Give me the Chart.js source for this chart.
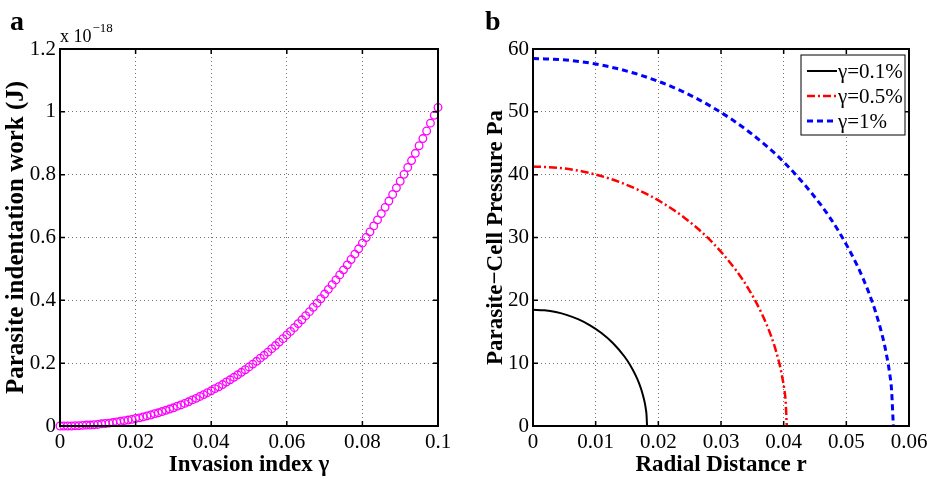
<!DOCTYPE html>
<html>
<head>
<meta charset="utf-8">
<script src="https://cdn.jsdelivr.net/npm/chart.js@4.4.0/dist/chart.umd.min.js"></script>
<style>
  body { margin: 0; background: #fff; }
  #workChart { position: absolute; left: 0; top: 0; }
  #pressureChart { position: absolute; left: 480px; top: 0; }
</style>
</head>
<body>
<canvas id="workChart" width="480" height="479"></canvas>
<canvas id="pressureChart" width="454" height="479"></canvas>
<script>
// panel a: indentation work (x 1e-18 J) against invasion index
const gamma = [
  0, 0.001, 0.002, 0.003, 0.004, 0.005, 0.006, 0.007, 0.008, 0.009,
  0.010, 0.011, 0.012, 0.013, 0.014, 0.015, 0.016, 0.017, 0.018, 0.019,
  0.020, 0.021, 0.022, 0.023, 0.024, 0.025, 0.026, 0.027, 0.028, 0.029,
  0.030, 0.031, 0.032, 0.033, 0.034, 0.035, 0.036, 0.037, 0.038, 0.039,
  0.040, 0.041, 0.042, 0.043, 0.044, 0.045, 0.046, 0.047, 0.048, 0.049,
  0.050, 0.051, 0.052, 0.053, 0.054, 0.055, 0.056, 0.057, 0.058, 0.059,
  0.060, 0.061, 0.062, 0.063, 0.064, 0.065, 0.066, 0.067, 0.068, 0.069,
  0.070, 0.071, 0.072, 0.073, 0.074, 0.075, 0.076, 0.077, 0.078, 0.079,
  0.080, 0.081, 0.082, 0.083, 0.084, 0.085, 0.086, 0.087, 0.088, 0.089,
  0.090, 0.091, 0.092, 0.093, 0.094, 0.095, 0.096, 0.097, 0.098, 0.099,
  0.100
];
const work = [
  0.000, 0.000, 0.000, 0.000, 0.001, 0.001, 0.002, 0.003, 0.003, 0.004,
  0.005, 0.007, 0.008, 0.009, 0.011, 0.013, 0.015, 0.017, 0.019, 0.021,
  0.024, 0.026, 0.029, 0.032, 0.035, 0.039, 0.042, 0.046, 0.050, 0.054,
  0.058, 0.063, 0.067, 0.072, 0.077, 0.083, 0.088, 0.094, 0.100, 0.106,
  0.112, 0.119, 0.125, 0.132, 0.140, 0.147, 0.155, 0.163, 0.171, 0.179,
  0.188, 0.197, 0.206, 0.216, 0.225, 0.235, 0.246, 0.256, 0.267, 0.278,
  0.290, 0.301, 0.313, 0.326, 0.338, 0.351, 0.364, 0.378, 0.391, 0.405,
  0.420, 0.435, 0.450, 0.465, 0.481, 0.497, 0.513, 0.530, 0.547, 0.564,
  0.582, 0.600, 0.618, 0.637, 0.656, 0.676, 0.696, 0.716, 0.737, 0.758,
  0.779, 0.801, 0.823, 0.845, 0.868, 0.892, 0.915, 0.939, 0.964, 0.989,
  1.014
];

// panel b: parasite-cell pressure against radial distance
const radius01 = [0, 0.00182, 0.00364, 0.00546, 0.00728, 0.0091, 0.01092, 0.01274, 0.01456,
  0.01547, 0.01638, 0.01693, 0.01729, 0.01765, 0.01784, 0.01802, 0.01811, 0.0182];
const pressure01 = [18.5, 18.41, 18.13, 17.65, 16.96, 16.02, 14.8, 13.21, 11.1,
  9.75, 8.06, 6.8, 5.78, 4.5, 3.68, 2.61, 1.85, 0];

const radius05 = [0, 0.00405, 0.0081, 0.01215, 0.0162, 0.02025, 0.0243, 0.02835, 0.0324,
  0.03443, 0.03645, 0.03767, 0.03848, 0.03929, 0.03969, 0.0401, 0.0403, 0.0405];
const pressure05 = [41.3, 41.09, 40.47, 39.4, 37.85, 35.77, 33.04, 29.49, 24.78,
  21.76, 18.0, 15.18, 12.9, 10.04, 8.22, 5.83, 4.12, 0];

const radius1 = [0, 0.00575, 0.0115, 0.01725, 0.023, 0.02875, 0.0345, 0.04025, 0.046,
  0.04888, 0.05175, 0.05348, 0.05463, 0.05578, 0.05635, 0.05693, 0.05721, 0.0575];
const pressure1 = [58.5, 58.21, 57.32, 55.81, 53.62, 50.66, 46.8, 41.78, 35.1,
  30.82, 25.5, 21.5, 18.27, 14.22, 11.64, 8.25, 5.84, 0];

const seriesLabels = ["γ=0.1%", "γ=0.5%", "γ=1%"];

const serif = "'Liberation Serif', 'Times New Roman', serif";

function toPoints(xs, ys) {
  return xs.map((x, i) => ({ x: x, y: ys[i] }));
}

// matlab prints 1 and 0.1, not 1.0 and 0.10
function plainTick(v) {
  return String(parseFloat(Number(v).toFixed(6)));
}

// box round the axes with matlab-style inward ticks
const axesBox = {
  id: "axesBox",
  afterDatasetsDraw(chart) {
    const { ctx, chartArea: a, scales } = chart;
    const x = scales.x, y = scales.y;
    ctx.save();
    ctx.strokeStyle = "#000";
    ctx.lineWidth = 1.5;
    ctx.beginPath();
    x.ticks.forEach((t) => {
      const px = x.getPixelForValue(t.value);
      ctx.moveTo(px, a.bottom); ctx.lineTo(px, a.bottom - 5);
      ctx.moveTo(px, a.top); ctx.lineTo(px, a.top + 5);
    });
    y.ticks.forEach((t) => {
      const py = y.getPixelForValue(t.value);
      ctx.moveTo(a.left, py); ctx.lineTo(a.left + 5, py);
      ctx.moveTo(a.right, py); ctx.lineTo(a.right - 5, py);
    });
    ctx.stroke();
    ctx.lineWidth = 2;
    ctx.strokeRect(a.left, a.top, a.right - a.left, a.bottom - a.top);

    const o = chart.options.plugins.axesBox;
    ctx.fillStyle = "#000";
    ctx.textAlign = "left";
    ctx.textBaseline = "alphabetic";
    ctx.font = "bold 28px " + serif;
    ctx.fillText(o.panel, o.panelX, 30);
    if (o.exponent) {
      ctx.font = "18px " + serif;
      ctx.fillText("x 10", a.left, 42);
      const w = ctx.measureText("x 10").width;
      ctx.font = "13px " + serif;
      ctx.fillText(o.exponent, a.left + w + 1, 32);
    }
    ctx.restore();
  }
};

// legend drawn inside the top right corner of panel b
const boxLegend = {
  id: "boxLegend",
  afterDraw(chart) {
    const o = chart.options.plugins.boxLegend;
    if (!o || !o.show) return;
    const { ctx, chartArea: a } = chart;
    const right = a.right - 4, top = a.top + 6, w = 104, h = 80;
    const left = right - w;
    ctx.save();
    ctx.fillStyle = "#fff";
    ctx.fillRect(left, top, w, h);
    ctx.strokeStyle = "#000";
    ctx.lineWidth = 1;
    ctx.strokeRect(left, top, w, h);
    chart.data.datasets.forEach((ds, i) => {
      const yy = top + 16 + i * 25;
      ctx.strokeStyle = ds.borderColor;
      ctx.lineWidth = ds.borderWidth;
      ctx.setLineDash(ds.borderDash || []);
      ctx.beginPath();
      ctx.moveTo(left + 6, yy);
      ctx.lineTo(left + 36, yy);
      ctx.stroke();
      ctx.setLineDash([]);
      ctx.fillStyle = "#000";
      ctx.font = "21px " + serif;
      ctx.textBaseline = "middle";
      ctx.fillText(ds.label, left + 37, yy + 1);
    });
    ctx.restore();
  }
};

function axisOptions(min, max, step, titleText, isY, boxSize, titleSize) {
  return {
    type: "linear",
    min: min,
    max: max,
    afterFit(s) {
      if (isY) s.width = boxSize; else s.height = boxSize;
    },
    ticks: {
      stepSize: step,
      autoSkip: false,
      maxRotation: 0,
      color: "#000",
      padding: 4,
      callback: plainTick,
      font: { family: serif, size: 21 }
    },
    grid: { color: "rgba(0,0,0,0.55)", lineWidth: 1, drawTicks: false },
    border: { display: false, dash: [1, 3] },
    title: {
      display: true,
      text: titleText,
      color: "#000",
      padding: { top: 2, bottom: 0 },
      font: { family: serif, size: titleSize || 23, weight: "bold" }
    }
  };
}

new Chart(document.getElementById("workChart"), {
  type: "scatter",
  data: {
    datasets: [{
      label: "work",
      data: toPoints(gamma, work),
      showLine: false,
      pointStyle: "circle",
      pointRadius: 3.8,
      pointBorderWidth: 1.3,
      pointBorderColor: "#ff00ff",
      pointBackgroundColor: "rgba(0,0,0,0)",
      clip: false
    }]
  },
  options: {
    responsive: false,
    animation: false,
    layout: { padding: { top: 49, right: 42, left: 0, bottom: 0 } },
    plugins: {
      legend: { display: false },
      tooltip: { enabled: false },
      axesBox: { panel: "a", panelX: 10, exponent: "\u221218" }
    },
    scales: {
      x: axisOptions(0, 0.1, 0.02, "Invasion index γ", false, 53),
      y: axisOptions(0, 1.2, 0.2, "Parasite indentation work (J)", true, 60, 25)
    }
  },
  plugins: [axesBox]
});

new Chart(document.getElementById("pressureChart"), {
  type: "scatter",
  data: {
    datasets: [
      {
        label: seriesLabels[0],
        data: toPoints(radius01, pressure01),
        showLine: true,
        borderColor: "#000000",
        borderWidth: 2,
        pointRadius: 0,
        cubicInterpolationMode: "monotone",
        clip: false
      },
      {
        label: seriesLabels[1],
        data: toPoints(radius05, pressure05),
        showLine: true,
        borderColor: "#ff0000",
        borderWidth: 2.5,
        borderDash: [8, 3, 2, 3],
        pointRadius: 0,
        cubicInterpolationMode: "monotone",
        clip: false
      },
      {
        label: seriesLabels[2],
        data: toPoints(radius1, pressure1),
        showLine: true,
        borderColor: "#0000ff",
        borderWidth: 3,
        borderDash: [6, 4],
        pointRadius: 0,
        cubicInterpolationMode: "monotone",
        clip: false
      }
    ]
  },
  options: {
    responsive: false,
    animation: false,
    layout: { padding: { top: 49, right: 25, left: 0, bottom: 0 } },
    plugins: {
      legend: { display: false },
      tooltip: { enabled: false },
      axesBox: { panel: "b", panelX: 5, exponent: null },
      boxLegend: { show: true }
    },
    scales: {
      x: axisOptions(0, 0.06, 0.01, "Radial Distance r", false, 53),
      y: axisOptions(0, 60, 10, "Parasite\u2212Cell Pressure Pa", true, 53)
    }
  },
  plugins: [axesBox, boxLegend]
});
</script>
</body>
</html>
